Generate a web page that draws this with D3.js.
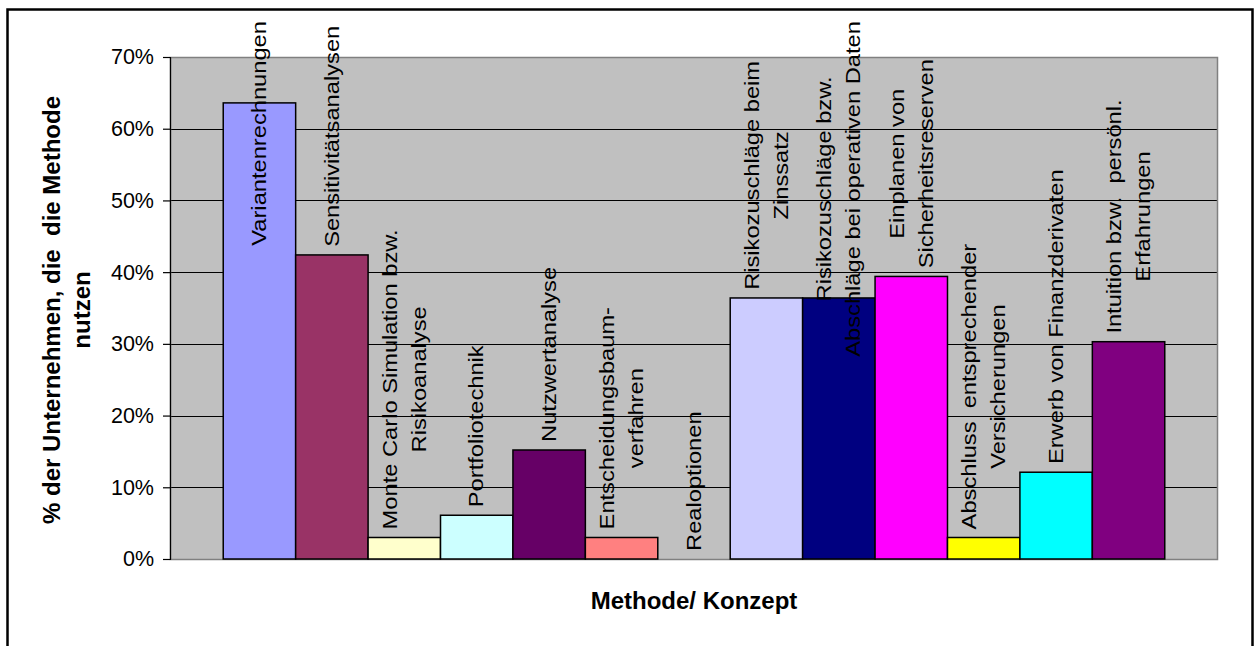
<!DOCTYPE html>
<html>
<head>
<meta charset="utf-8">
<script src="https://cdn.jsdelivr.net/npm/d3@7"></script>
<style>
  html, body { margin: 0; padding: 0; background: #fff; }
  svg { display: block; }
  text { font-family: "Liberation Sans", Arial, sans-serif; fill: #000; white-space: pre; }
</style>
</head>
<body>
<svg id="chart" width="1258" height="646"></svg>
<script>
// ---- data ----
const categories = [
  "Variantenrechnungen",
  "Sensitivitätsanalysen",
  "Monte Carlo Simulation bzw. Risikoanalyse",
  "Portfoliotechnik",
  "Nutzwertanalyse",
  "Entscheidungsbaum-verfahren",
  "Realoptionen",
  "Risikozuschläge beim Zinssatz",
  "Risikozuschläge bzw. Abschläge bei operativen Daten",
  "Einplanen von Sicherheitsreserven",
  "Abschluss entsprechender Versicherungen",
  "Erwerb von Finanzderivaten",
  "Intuition bzw. persönl. Erfahrungen"
];
const labelLines = [
  ["Variantenrechnungen"],
  ["Sensitivitätsanalysen"],
  ["Monte Carlo Simulation bzw.", "Risikoanalyse"],
  ["Portfoliotechnik"],
  ["Nutzwertanalyse"],
  ["Entscheidungsbaum-", "verfahren"],
  ["Realoptionen"],
  ["Risikozuschläge beim", "Zinssatz"],
  ["Risikozuschläge bzw.", "Abschläge bei operativen Daten"],
  ["Einplanen von", "Sicherheitsreserven"],
  ["Abschluss  entsprechender", "Versicherungen"],
  ["Erwerb von Finanzderivaten"],
  ["Intuition bzw.  persönl.", "Erfahrungen"]
];
const values = [0.636, 0.424, 0.030, 0.061, 0.152, 0.030, 0.000, 0.364, 0.364, 0.394, 0.030, 0.121, 0.303];
const colors = ["#9999FF", "#993366", "#FFFFCC", "#CCFFFF", "#660066", "#FF8080", "#0066CC",
                "#CCCCFF", "#000080", "#FF00FF", "#FFFF00", "#00FFFF", "#800080"];
const yTicks = [0, 0.1, 0.2, 0.3, 0.4, 0.5, 0.6, 0.7];
const yTitleLines = ["% der Unternehmen, die  die Methode", "nutzen"];
const xTitle = "Methode/ Konzept";

// ---- layout ----
const plot = { left: 170, right: 1218, top: 57, bottom: 559 };
const svg = d3.select("#chart");

// outer frame
svg.append("rect")
  .attr("x", 7.5).attr("y", 9.5)
  .attr("width", 1245).attr("height", 700)
  .attr("fill", "none").attr("stroke", "#000").attr("stroke-width", 2.5);

const x = d3.scaleBand()
  .domain(categories)
  .range([plot.left, plot.right])
  .paddingInner(0)
  .paddingOuter(0.735);

const y = d3.scaleLinear().domain([0, 0.7]).range([plot.bottom, plot.top]);

// plot background
svg.append("rect")
  .attr("x", plot.left).attr("y", plot.top)
  .attr("width", plot.right - plot.left).attr("height", plot.bottom - plot.top)
  .attr("fill", "#C0C0C0");

// gridlines
svg.append("g")
  .selectAll("line")
  .data(yTicks.filter(t => t > 0 && t < 0.7))
  .join("line")
  .attr("x1", plot.left).attr("x2", plot.right)
  .attr("y1", d => Math.round(y(d)) + 0.5).attr("y2", d => Math.round(y(d)) + 0.5)
  .attr("stroke", "#000").attr("stroke-width", 1);

// plot border (gray)
svg.append("rect")
  .attr("x", plot.left + 0.5).attr("y", plot.top + 0.5)
  .attr("width", plot.right - plot.left - 1).attr("height", plot.bottom - plot.top)
  .attr("fill", "none").attr("stroke", "#808080").attr("stroke-width", 1.5);

// bars
svg.append("g")
  .selectAll("rect")
  .data(values)
  .join("rect")
  .attr("x", (d, i) => x(categories[i]))
  .attr("y", d => y(d))
  .attr("width", x.bandwidth())
  .attr("height", d => y(0) - y(d))
  .attr("fill", (d, i) => colors[i])
  .attr("stroke", "#000")
  .attr("stroke-width", 1.5);

// y axis
const yAxis = d3.axisLeft(y)
  .tickValues(yTicks)
  .tickFormat(d3.format(".0%"))
  .tickSize(7)
  .tickPadding(9);
const ya = svg.append("g")
  .attr("transform", `translate(${plot.left},0)`)
  .call(yAxis);
ya.select(".domain").attr("stroke", "#000").attr("stroke-width", 1.2);
ya.selectAll(".tick line").attr("stroke", "#000").attr("stroke-width", 1.2);
ya.selectAll(".tick text")
  .attr("font-size", "21.5px")
  .attr("font-family", "Liberation Sans, Arial, sans-serif")
  .attr("fill", "#000");

// category labels (rotated, above bars)
const labelFont = 23;
const squash = 0.85;
const stretch = 1.03;
const lineGap = 29 / squash;
const labels = svg.append("g");
values.forEach((v, i) => {
  const cx = x(categories[i]) + x.bandwidth() / 2;
  const g = labels.append("g");
  const lines = labelLines[i];
  const n = lines.length;
  const texts = lines.map((ln, k) =>
    g.append("text")
      .attr("x", 0)
      .attr("y", (k - (n - 1) / 2) * lineGap)
      .attr("text-anchor", "middle")
      .attr("dominant-baseline", "central")
      .attr("font-size", labelFont + "px")
      .text(ln)
  );
  const maxLen = d3.max(texts, t => t.node().getComputedTextLength()) * stretch;
  const top = 21;
  const cy = Math.max(top + maxLen / 2, y(v) - 8 - maxLen / 2);
  g.attr("transform", `translate(${cx},${cy}) rotate(-90) scale(${stretch},${squash})`);
});

// y axis title
const yt = svg.append("g").attr("transform", "translate(66,310) rotate(-90)");
yTitleLines.forEach((ln, k) => {
  yt.append("text")
    .attr("x", 0).attr("y", (k - 0.5) * 30)
    .attr("text-anchor", "middle")
    .attr("dominant-baseline", "central")
    .attr("font-size", "24px")
    .attr("font-weight", "bold")
    .text(ln);
});

// x axis title
svg.append("text")
  .attr("x", (plot.left + plot.right) / 2)
  .attr("y", 609)
  .attr("text-anchor", "middle")
  .attr("font-size", "24px")
  .attr("font-weight", "bold")
  .text(xTitle);
</script>
</body>
</html>
